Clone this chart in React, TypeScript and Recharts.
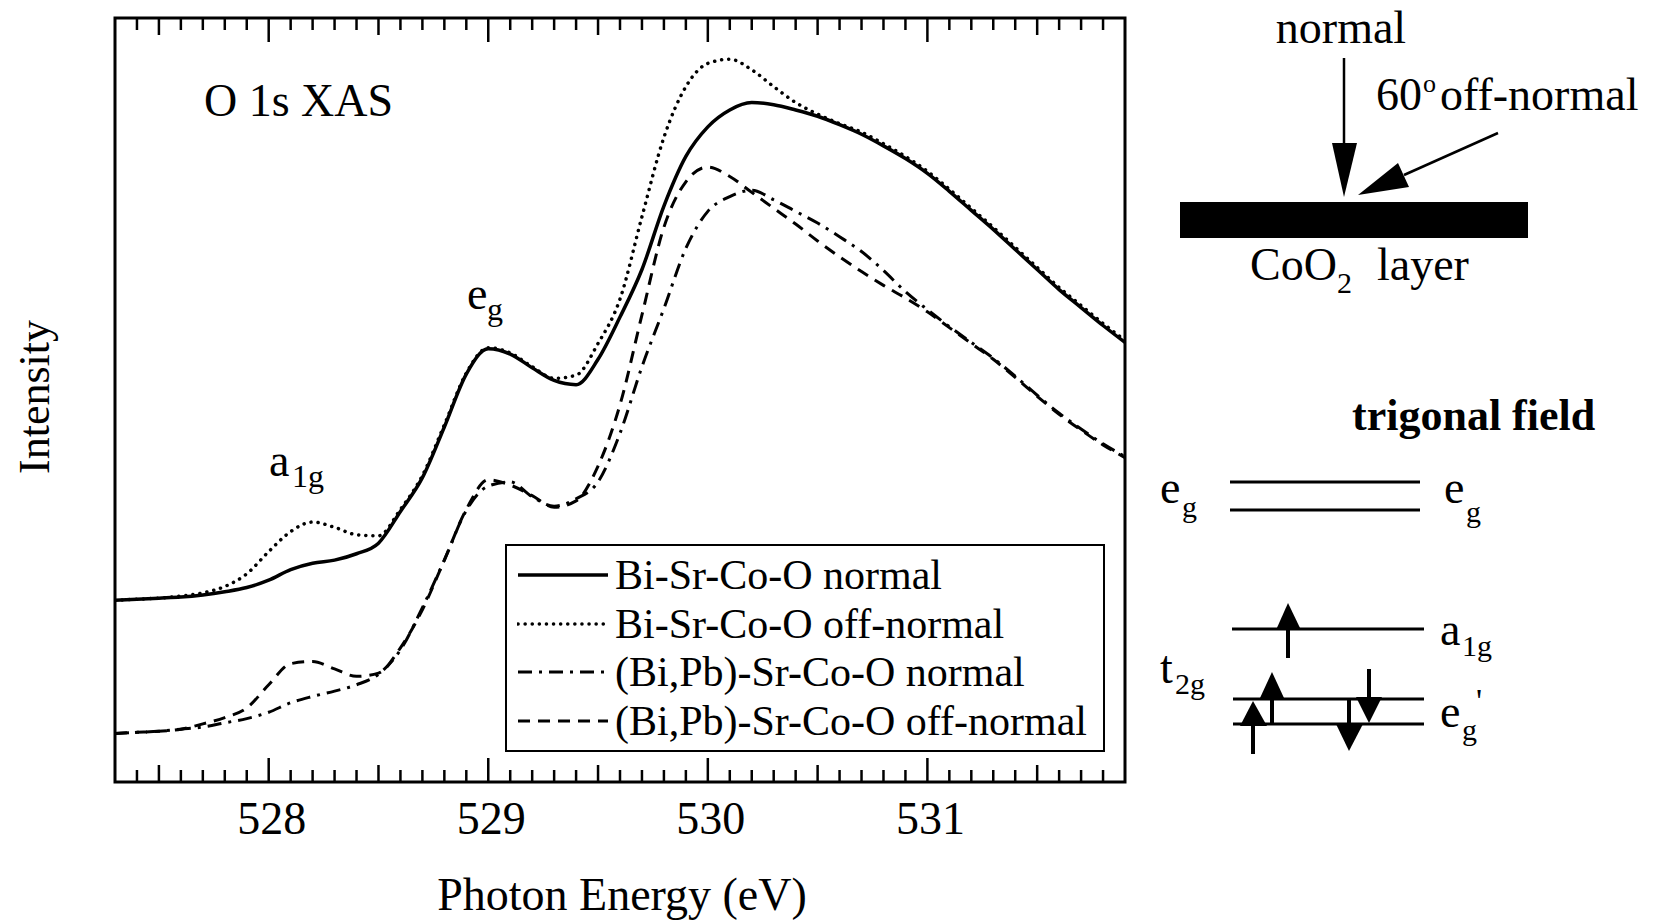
import React from 'react';
import { LineChart, Line, XAxis, YAxis, Legend, ReferenceArea, Customized } from 'recharts';

// photon energy grid (eV), also used as the 0.1 eV minor tick positions
const energy = [
  527.3, 527.4, 527.5, 527.6, 527.7, 527.8, 527.9, 528.0, 528.1, 528.2,
  528.3, 528.4, 528.5, 528.6, 528.7, 528.8, 528.9, 529.0, 529.1, 529.2,
  529.3, 529.4, 529.5, 529.6, 529.7, 529.8, 529.9, 530.0, 530.1, 530.2,
  530.3, 530.4, 530.5, 530.6, 530.7, 530.8, 530.9, 531.0, 531.1, 531.2,
  531.3, 531.4, 531.5, 531.6, 531.7, 531.8, 531.9,
];

// intensity, arbitrary units
const biNormal = [
  17.2, 17.3, 17.4, 17.5, 17.7, 18.0, 18.4, 19.1, 20.1, 20.7,
  21.0, 21.6, 22.6, 25.6, 28.8, 33.6, 38.6, 41.0, 40.5, 39.2,
  38.0, 37.6, 40.0, 44.0, 48.5, 54.5, 59.2, 62.0, 63.6, 64.3,
  64.1, 63.6, 63.0, 62.2, 61.3, 60.2, 59.0, 57.6, 55.9, 54.1,
  52.3, 50.4, 48.5, 46.6, 44.9, 43.2, 41.6,
];
const biOffNormal = [
  17.2, 17.3, 17.4, 17.6, 17.9, 18.5, 19.7, 21.8, 23.7, 24.6,
  24.1, 23.4, 23.3, 25.8, 29.0, 33.8, 38.7, 41.1, 40.6, 39.3,
  38.2, 38.5, 41.5, 45.7, 53.5, 61.0, 65.8, 68.0, 68.4, 67.4,
  65.8, 64.3, 63.2, 62.3, 61.5, 60.4, 59.2, 57.8, 56.1, 54.3,
  52.5, 50.6, 48.7, 46.8, 45.1, 43.4, 41.8,
];
const pbNormal = [
  4.6, 4.7, 4.8, 5.0, 5.2, 5.6, 6.0, 6.6, 7.5, 8.1,
  8.6, 9.2, 10.2, 12.5, 16.5, 21.0, 25.7, 28.0, 28.4, 27.0,
  26.1, 26.8, 28.4, 33.0, 39.3, 44.8, 50.5, 54.0, 55.4, 56.0,
  55.1, 54.0, 52.9, 51.6, 50.2, 48.4, 46.4, 44.7, 43.1, 41.6,
  40.1, 38.4, 36.6, 34.9, 33.4, 32.0, 30.8,
];
const pbOffNormal = [
  4.6, 4.7, 4.8, 5.0, 5.5, 6.1, 7.0, 9.2, 11.2, 11.4,
  10.7, 10.0, 10.3, 12.7, 16.3, 21.0, 25.8, 28.6, 28.1, 27.1,
  26.0, 26.6, 29.9, 35.7, 44.2, 52.5, 56.8, 58.2, 57.3, 55.8,
  54.3, 52.8, 51.2, 49.7, 48.3, 47.0, 45.8, 44.5, 43.0, 41.5,
  40.0, 38.3, 36.5, 34.8, 33.3, 31.9, 30.7,
];

const majorTicks = [528, 529, 530, 531];
const halfTicks = [527.5, 528.5, 529.5, 530.5, 531.5];

const SERIES = [
  { key: 'biNormal', name: 'Bi-Sr-Co-O normal', width: 3.5, dash: undefined, cap: 'butt' },
  { key: 'biOffNormal', name: 'Bi-Sr-Co-O off-normal', width: 3.5, dash: '0.1 7', cap: 'round' },
  { key: 'pbNormal', name: '(Bi,Pb)-Sr-Co-O normal', width: 3, dash: '14 7 3 7', cap: 'butt' },
  { key: 'pbOffNormal', name: '(Bi,Pb)-Sr-Co-O off-normal', width: 3, dash: '12 8', cap: 'butt' },
];

const data = energy.map((e, i) => ({
  e,
  biNormal: biNormal[i],
  biOffNormal: biOffNormal[i],
  pbNormal: pbNormal[i],
  pbOffNormal: pbOffNormal[i],
}));

const FONT = '"Liberation Serif", "Times New Roman", serif';
const PLOT_TOP = 18;
const PLOT_BOTTOM = 782;

const near = (a: number, list: number[]) => list.some((v) => Math.abs(v - a) < 0.01);

// inward ticks on both bottom and top edges, labels only on integers
const FrameTick = (props: any) => {
  const { x, payload } = props;
  const v = payload.value;
  const major = near(v, majorTicks);
  const half = near(v, halfTicks);
  const len = major ? 24 : half ? 17 : 12;
  return (
    <g>
      <line x1={x} x2={x} y1={PLOT_BOTTOM} y2={PLOT_BOTTOM - len} stroke="#000" strokeWidth={2.5} />
      <line x1={x} x2={x} y1={PLOT_TOP} y2={PLOT_TOP + len} stroke="#000" strokeWidth={2.5} />
      {major && (
        <text x={x + 3} y={PLOT_BOTTOM + 52} textAnchor="middle" fontSize={46} fontFamily={FONT} fill="#000">
          {Math.round(v)}
        </text>
      )}
    </g>
  );
};

const renderLegend = () => (
  <div
    style={{
      border: '2.5px solid #000',
      boxSizing: 'border-box',
      width: 600,
      height: 208,
      background: '#fff',
      fontFamily: FONT,
      fontSize: 42,
      color: '#000',
      padding: '5px 0 0 10px',
    }}
  >
    {SERIES.map((s) => (
      <div key={s.key} style={{ display: 'flex', alignItems: 'center', height: 48.5 }}>
        <svg width={92} height={20}>
          <line x1={1} x2={91} y1={10} y2={10} stroke="#000" strokeWidth={s.width}
            strokeDasharray={s.dash} strokeLinecap={s.cap as any} />
        </svg>
        <span style={{ marginLeft: 6, whiteSpace: 'nowrap', lineHeight: '48px' }}>{s.name}</span>
      </div>
    ))}
  </div>
);

const T = (p: any) => <text fontFamily={FONT} fill="#000" {...p} />;

const arrowHead = (pts: number[][]) => <polygon points={pts.map((p) => p.join(',')).join(' ')} fill="#000" />;

// annotations, axis titles and the geometry / level diagram at the right
const Annotations = () => (
  <g>
    <T x={204} y={116} fontSize={46}>O 1s XAS</T>
    <T x={49} y={397} fontSize={44} textAnchor="middle" transform="rotate(-90 49 397)">Intensity</T>
    <T x={622} y={910} fontSize={46} textAnchor="middle">Photon Energy (eV)</T>

    <T x={467} y={309} fontSize={46}>e</T>
    <T x={487} y={320} fontSize={32}>g</T>
    <T x={269} y={476} fontSize={46}>a</T>
    <T x={292} y={487} fontSize={32}>1g</T>

    {/* incidence geometry */}
    <T x={1341} y={43} fontSize={46} textAnchor="middle">normal</T>
    <line x1={1344} y1={58} x2={1344} y2={150} stroke="#000" strokeWidth={2.5} />
    {arrowHead([[1332, 143], [1357, 143], [1344, 197]])}
    <T x={1376} y={110} fontSize={46}>60</T>
    <T x={1423} y={92} fontSize={26}>o</T>
    <T x={1440} y={110} fontSize={46}>off-normal</T>
    <line x1={1498} y1={133} x2={1404} y2={175} stroke="#000" strokeWidth={2.5} />
    {arrowHead([[1409, 187], [1398, 163], [1358, 195]])}
    <rect x={1180} y={202} width={348} height={36} fill="#000" />
    <T x={1250} y={280} fontSize={46}>CoO</T>
    <T x={1337} y={293} fontSize={30}>2</T>
    <T x={1377} y={280} fontSize={46}>layer</T>

    {/* trigonal field splitting */}
    <T x={1352} y={430} fontSize={44} fontWeight="bold">trigonal field</T>
    <line x1={1230} x2={1420} y1={482} y2={482} stroke="#000" strokeWidth={3} />
    <line x1={1230} x2={1420} y1={510} y2={510} stroke="#000" strokeWidth={3} />
    <T x={1160} y={503} fontSize={46}>e</T>
    <T x={1182} y={517} fontSize={30}>g</T>
    <T x={1444} y={503} fontSize={46}>e</T>
    <T x={1466} y={522} fontSize={30}>g</T>

    <line x1={1232} x2={1424} y1={629} y2={629} stroke="#000" strokeWidth={3} />
    {arrowHead([[1276, 630], [1301, 630], [1288, 603]])}
    <line x1={1288} x2={1288} y1={625} y2={658} stroke="#000" strokeWidth={4} />
    <T x={1440} y={645} fontSize={46}>a</T>
    <T x={1462} y={656} fontSize={30}>1g</T>

    <line x1={1233} x2={1424} y1={699} y2={699} stroke="#000" strokeWidth={3} />
    <line x1={1233} x2={1424} y1={724} y2={724} stroke="#000" strokeWidth={3} />
    {arrowHead([[1240, 726], [1267, 726], [1253, 701]])}
    <line x1={1253} x2={1253} y1={722} y2={754} stroke="#000" strokeWidth={4} />
    {arrowHead([[1260, 698], [1284, 698], [1272, 672]])}
    <line x1={1272} x2={1272} y1={694} y2={724} stroke="#000" strokeWidth={4} />
    {arrowHead([[1336, 724], [1363, 724], [1349, 751]])}
    <line x1={1349} x2={1349} y1={699} y2={728} stroke="#000" strokeWidth={4} />
    {arrowHead([[1356, 697], [1382, 697], [1369, 723]])}
    <line x1={1369} x2={1369} y1={669} y2={701} stroke="#000" strokeWidth={4} />
    <T x={1160} y={683} fontSize={46}>t</T>
    <T x={1175} y={694} fontSize={30}>2g</T>
    <T x={1440} y={727} fontSize={46}>e</T>
    <T x={1462} y={740} fontSize={30}>g</T>
    <T x={1476} y={712} fontSize={34}>'</T>
  </g>
);

export default function App() {
  return (
    <div style={{ position: 'absolute', left: 0, top: 0, width: 1657, height: 920, background: '#fff' }}>
      <LineChart
        width={1657}
        height={920}
        data={data}
        margin={{ top: PLOT_TOP, right: 532, bottom: 78, left: 115 }}
      >
        <XAxis
          dataKey="e"
          type="number"
          domain={[527.3, 531.9]}
          ticks={energy.slice(1, -1)}
          interval={0}
          tick={<FrameTick />}
          tickLine={false}
          axisLine={false}
          height={60}
          allowDataOverflow
        />
        <YAxis hide domain={[0, 72.3]} allowDataOverflow />
        <ReferenceArea
          x1={527.3}
          x2={531.9}
          y1={0}
          y2={72.3}
          fill="none"
          stroke="#000"
          strokeWidth={3}
          ifOverflow="visible"
        />
        {SERIES.map((s) => (
          <Line
            key={s.key}
            dataKey={s.key}
            name={s.name}
            type="monotone"
            stroke="#000"
            strokeWidth={s.width}
            strokeDasharray={s.dash}
            strokeLinecap={s.cap as any}
            dot={false}
            isAnimationActive={false}
          />
        ))}
        <Legend
          layout="vertical"
          align="center"
          verticalAlign="middle"
          content={renderLegend}
          wrapperStyle={{ left: 505, top: 544, width: 600, height: 208 }}
        />
        <Customized component={Annotations} />
      </LineChart>
    </div>
  );
}
